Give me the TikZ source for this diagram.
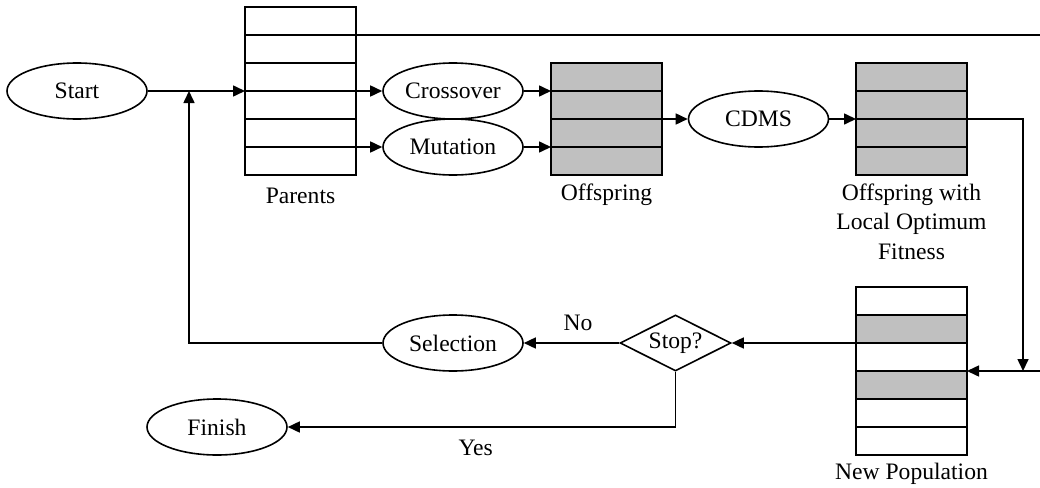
\documentclass[tikz,border=0pt]{standalone}
\usepackage{fontspec}
\setmainfont{Liberation Serif}
\usetikzlibrary{arrows.meta,shapes.geometric}
\definecolor{cellgray}{HTML}{C0C0C0}
\begin{document}
\begin{tikzpicture}[x=1pt,y=-1pt,
  line width=1.6pt,
  font=\fontsize{23.6}{29.5}\selectfont,
  tip/.style={-{Triangle[length=12pt,width=11pt]}},
  oval/.style={draw,ellipse,minimum width=140,minimum height=56,inner sep=0pt},
  stack/.style={rectangle,minimum width=111,inner sep=0pt,outer sep=0pt},
  lbl/.style={inner sep=0pt,align=center}]
\useasboundingbox (0,0) rectangle (1040,487);

% populations drawn as stacks of rows, 28 units high each
\node[stack,draw,minimum height=168] (parents) at (300.5,91) {};
\node[stack,draw,minimum height=112,fill=cellgray] (off) at (606.5,119) {};
\node[stack,draw,minimum height=112,fill=cellgray] (olo) at (911.5,119) {};
\node[stack,minimum height=168] (newpop) at (911.5,371) {};
\fill[cellgray] (newpop.north west) ++(0,28) rectangle ++(111,28);
\fill[cellgray] (newpop.north west) ++(0,84) rectangle ++(111,28);
\draw (newpop.north west) rectangle (newpop.south east);
\foreach \k in {1,...,5} {
  \draw (parents.north west) ++(0,28*\k) -- ++(111,0);
  \draw (newpop.north west) ++(0,28*\k) -- ++(111,0);
}
\foreach \k in {1,...,3} {
  \draw (off.north west) ++(0,28*\k) -- ++(111,0);
  \draw (olo.north west) ++(0,28*\k) -- ++(111,0);
}

% operators
\node[oval] (start) at (77,91) {Start};
\node[oval] (cross) at (453,91) {Crossover};
\node[oval] (mut) at (453,147) {Mutation};
\node[oval] (cdms) at (758.5,119) {CDMS};
\node[oval] (sel) at (453,343) {Selection};
\node[oval] (fin) at (217,427) {Finish};
\node[draw,diamond,aspect=2,minimum width=111,minimum height=56,inner sep=0pt] (stop) at (675.5,343) {Stop?};

% captions
\node[lbl] (capP) at (300.5,196) {Parents};
\node[lbl] (capO) at (606.5,195) {Offspring};
\node[lbl,anchor=north] (capL) at (911.5,183) {Offspring with\\Local Optimum\\Fitness};
\node[lbl] (capN) at (911.5,474) {New Population};
\node[lbl] (no) at (578,323) {No};
\node[lbl] (yes) at (475.7,447.5) {Yes};

% junction points
\coordinate (jn) at (189,91);
\coordinate (jr) at (1023,371);
\coordinate (top) at (1046,35);

% connectors
\draw[tip] (start) -- (parents);
\draw[tip] (parents.east |- cross.west) -- (cross.west);
\draw[tip] (parents.east |- mut.west) -- (mut.west);
\draw[tip] (cross.east) -- (cross.east -| off.west);
\draw[tip] (mut.east) -- (mut.east -| off.west);
\draw[tip] (off.east) -- (cdms.west);
\draw[tip] (cdms.east) -- (olo.west);
\draw[tip] (olo.east) -| (jr);
\draw[tip] (parents.north east) ++(0,28) -- (top) |- (newpop.east);
\draw[tip] (stop.east -| newpop.west) -- (stop.east);
\draw[tip] (stop.west) -- (sel.east);
\draw[tip] (sel.west) -| (jn);
\draw[tip] (stop.south) |- (fin.east);
\end{tikzpicture}
\end{document}
